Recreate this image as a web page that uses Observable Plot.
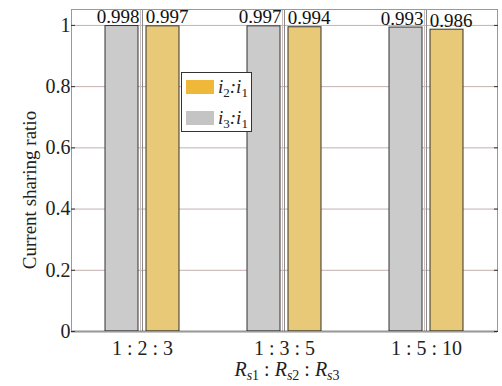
<!DOCTYPE html>
<html><head><meta charset="utf-8">
<script src="https://cdn.jsdelivr.net/npm/d3@7"></script>
<script src="https://cdn.jsdelivr.net/npm/@observablehq/plot@0.6"></script>
<style>
body{margin:0;background:#fff;}
#wrap{position:relative;width:502px;height:386px;font-family:"Liberation Serif",serif;color:#222;}
#legend{position:absolute;left:181px;top:72px;width:71px;height:60px;border:1px solid #333;background:#fff;box-sizing:border-box;}
.item{position:absolute;left:4px;height:15px;display:flex;align-items:center;}
.sw{width:28px;height:14px;margin-right:4px;}
.lab{font-size:19px;font-style:italic;line-height:15px;white-space:nowrap;}
.lab sub{font-style:normal;font-size:13px;vertical-align:-4px;line-height:0;}
#xlabel{position:absolute;left:0;width:574px;top:359px;text-align:center;font-size:20px;line-height:20px;white-space:nowrap;}
#xlabel i sub{font-size:14px;vertical-align:-4px;line-height:0;}
#xlabel sub span{font-style:normal;}
#ylabel{position:absolute;left:-120px;width:300px;top:179px;height:22px;line-height:22px;text-align:center;font-size:19px;white-space:nowrap;transform:rotate(-90deg);transform-origin:150px 11px;}
</style></head><body><div id="wrap"></div>
<script>
const ratios = ["1 : 2 : 3", "1 : 3 : 5", "1 : 5 : 10"];
const seriesKeys = ["i3:i1", "i2:i1"];
const i3i1 = [0.998, 0.997, 0.993];
const i2i1 = [0.997, 0.994, 0.986];
const yTicks = [0, 0.2, 0.4, 0.6, 0.8, 1];
const yLabel = "Current sharing ratio";

const rows = ratios.flatMap((r, k) => [
  {ratio: r, series: "i3:i1", value: i3i1[k]},
  {ratio: r, series: "i2:i1", value: i2i1[k]}
]);

const chart = Plot.plot({
  width: 502, height: 386,
  marginLeft: 70, marginRight: 4, marginTop: 9, marginBottom: 55,
  style: {fontFamily: "Liberation Serif, serif", fontSize: "20px", background: "#fff", color: "#222"},
  fx: {domain: ratios, padding: 0, label: null},
  x: {domain: seriesKeys, paddingInner: 0.2, paddingOuter: 0.8, axis: null},
  y: {domain: [0, 1.052], label: null, axis: null},
  color: {domain: seriesKeys, range: ["#cbcbcb", "#e8c978"]},
  marks: [
    Plot.gridY(yTicks, {stroke: "#c4b0b0", strokeOpacity: 1}),
    Plot.ruleX(ratios, {fx: d => d, x: null, dx: -2, stroke: "#cdbcbc"}),
    Plot.ruleX(ratios, {fx: d => d, x: null, dx: 0, stroke: "#8a8a8a"}),
    Plot.barY(rows, {fx: "ratio", x: "series", y: "value", fill: "series", stroke: "#333", strokeWidth: 1}),
    Plot.text(rows.filter(d => d.series === "i3:i1"), {fx: "ratio", x: "series", y: "value", text: d => String(d.value), dx: -4, dy: -3, lineAnchor: "bottom", fontSize: 19, fill: "#111"}),
    Plot.text(rows.filter(d => d.series === "i2:i1"), {fx: "ratio", x: "series", y: "value", text: d => String(d.value), dx: 4, dy: -3, lineAnchor: "bottom", fontSize: 19, fill: "#111"}),
    Plot.ruleY([0], {stroke: "#222", strokeWidth: 1.5}),
    Plot.frame({facet: "super", stroke: "#999"}),
    Plot.axisY({ticks: yTicks, tickFormat: d => String(d), tickSize: 0, tickPadding: 1, fontSize: 20, label: null}),
    Plot.axisY({ticks: yTicks, text: null, tickSize: 4, dx: 4, label: null, stroke: "#333"}),
    Plot.axisY({ticks: yTicks, anchor: "right", text: null, tickSize: 4, dx: -4, label: null, stroke: "#333"}),
    Plot.axisFx({anchor: "bottom", tickSize: 0, tickPadding: 9, fontSize: 20, label: null})
  ]
});
const wrap = document.getElementById("wrap");
wrap.appendChild(chart);

const yl = document.createElement("div");
yl.id = "ylabel";
yl.textContent = yLabel;
wrap.appendChild(yl);

const legend = document.createElement("div");
legend.id = "legend";
legend.innerHTML =
  '<div class="item" style="top:6px"><div class="sw" style="background:#f0b838"></div><span class="lab">i<sub>2</sub>:i<sub>1</sub></span></div>' +
  '<div class="item" style="top:37px"><div class="sw" style="background:#c4c4c4"></div><span class="lab">i<sub>3</sub>:i<sub>1</sub></span></div>';
wrap.appendChild(legend);

const xl = document.createElement("div");
xl.id = "xlabel";
xl.innerHTML = '<i>R<sub>s<span>1</span></sub></i> : <i>R<sub>s<span>2</span></sub></i> : <i>R<sub>s<span>3</span></sub></i>';
wrap.appendChild(xl);
</script>
</body></html>
